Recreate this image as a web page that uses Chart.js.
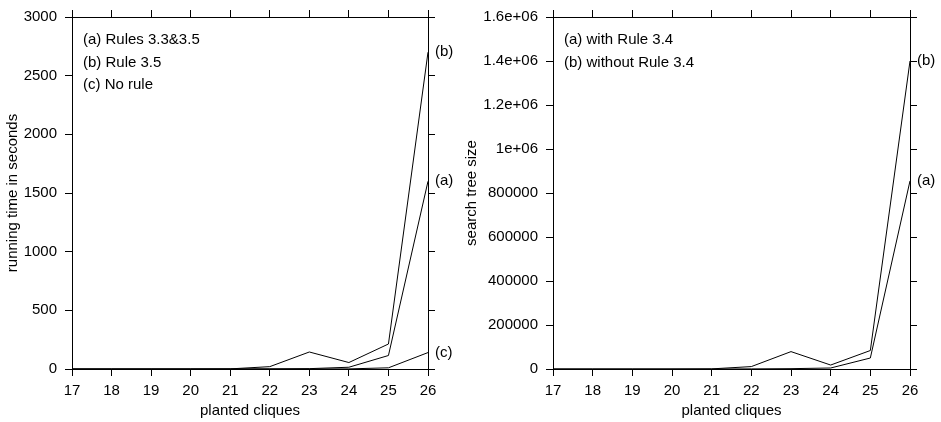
<!DOCTYPE html>
<html>
<head>
<meta charset="utf-8">
<script src="https://cdn.jsdelivr.net/npm/chart.js@4.4.1/dist/chart.umd.min.js"></script>
<style>
  body { margin: 0; background: #fff; }
  #wrapTime { position: absolute; left: 0; top: 0; width: 460px; height: 422px; }
  #wrapTree { position: absolute; left: 460px; top: 0; width: 481px; height: 422px; }
</style>
</head>
<body>
<div id="wrapTime"><canvas id="chartTime"></canvas></div>
<div id="wrapTree"><canvas id="chartTree"></canvas></div>
<script>
// planted cliques on the x axis
var cliques = [17, 18, 19, 20, 21, 22, 23, 24, 25, 26];

// left: running time in seconds
var timeRules = [0, 0, 0, 0, 0, 1, 3, 15, 115, 1600];     // (a) Rules 3.3&3.5
var timeRule35 = [0, 0, 0, 0, 1, 20, 145, 55, 213, 2700]; // (b) Rule 3.5
var timeNoRule = [0, 0, 0, 0, 0, 0, 0, 1, 10, 140];       // (c) No rule
var timeLegend = ["(a) Rules 3.3&3.5", "(b) Rule 3.5", "(c) No rule"];
var timeEnds = ["(a)", "(b)", "(c)"];

// right: search tree size
var treeWith = [0, 0, 0, 0, 0, 500, 1500, 4500, 50000, 855000];          // (a)
var treeWithout = [0, 0, 0, 0, 500, 11000, 79000, 18000, 84000, 1400000]; // (b)
var treeLegend = ["(a) with Rule 3.4", "(b) without Rule 3.4"];
var treeEnds = ["(a)", "(b)"];
var treeTicks = ["0", "200000", "400000", "600000", "800000", "1e+06", "1.2e+06", "1.4e+06", "1.6e+06"];

var FONT = { family: "'Liberation Sans', Arial, sans-serif", size: 15 };
Chart.defaults.font = FONT;
Chart.defaults.color = "#000";

// legend text in the corner and (a)/(b)/(c) at the line ends
var notesPlugin = {
  id: "notes",
  afterDraw: function (chart, args, opts) {
    var ctx = chart.ctx, area = chart.chartArea;
    ctx.save();
    ctx.font = FONT.size + "px " + FONT.family;
    ctx.fillStyle = "#000";
    ctx.textAlign = "left";
    ctx.textBaseline = "middle";
    opts.legend.forEach(function (txt, i) {
      ctx.fillText(txt, area.left + 11, area.top + 23 + i * 22.5);
    });
    chart.data.datasets.forEach(function (ds, i) {
      var last = ds.data[ds.data.length - 1];
      var y = chart.scales.y.getPixelForValue(last.y);
      ctx.fillText(opts.ends[i], area.right + 7, y);
    });
    ctx.restore();
  }
};

function points(ys) {
  return cliques.map(function (c, i) { return { x: c, y: ys[i] }; });
}

function lineSet(ys) {
  return {
    data: points(ys),
    borderColor: "#000",
    borderWidth: 1,
    pointRadius: 0,
    tension: 0,
    fill: false
  };
}

function axisGrid() {
  return { drawOnChartArea: false, drawTicks: true, tickLength: 7, color: "#000", tickColor: "#000" };
}

function makeChart(id, sets, yMax, yStep, yTitle, yWidth, titlePad, rightPad, tickCb, legend, ends) {
  return new Chart(document.getElementById(id), {
    type: "line",
    data: { datasets: sets },
    plugins: [notesPlugin],
    options: {
      responsive: true,
      maintainAspectRatio: false,
      animation: false,
      layout: { padding: { top: 6, right: rightPad, bottom: 0, left: 0 } },
      plugins: {
        legend: { display: false },
        tooltip: { enabled: false },
        notes: { legend: legend, ends: ends }
      },
      scales: {
        x: {
          type: "linear", position: "bottom", min: 17, max: 26,
          ticks: { stepSize: 1, padding: 6, maxRotation: 0 },
          grid: axisGrid(),
          border: { display: true, color: "#000", width: 1 },
          title: { display: true, text: "planted cliques", padding: { top: 0, bottom: 2 } },
          afterFit: function (s) { s.height = 53; }
        },
        x2: {
          type: "linear", position: "top", min: 17, max: 26,
          ticks: { display: false, stepSize: 1 },
          grid: axisGrid(),
          border: { display: true, color: "#000", width: 1 },
          afterFit: function (s) { s.height = 7; }
        },
        y: {
          type: "linear", position: "left", min: 0, max: yMax,
          ticks: { stepSize: yStep, padding: 8, callback: tickCb },
          grid: axisGrid(),
          border: { display: true, color: "#000", width: 1 },
          title: { display: true, text: yTitle, padding: { top: titlePad, bottom: 0 } },
          afterFit: function (s) { s.width = yWidth; }
        },
        y2: {
          type: "linear", position: "right", min: 0, max: yMax,
          ticks: { display: false, stepSize: yStep },
          grid: axisGrid(),
          border: { display: true, color: "#000", width: 1 },
          afterFit: function (s) { s.width = 7; }
        }
      }
    }
  });
}

makeChart("chartTime",
  [lineSet(timeRules), lineSet(timeRule35), lineSet(timeNoRule)],
  3000, 500, "running time in seconds", 72, 4, 25,
  function (v) { return v; }, timeLegend, timeEnds);

makeChart("chartTree",
  [lineSet(treeWith), lineSet(treeWithout)],
  1600000, 200000, "search tree size", 93, 3, 24,
  function (v, i) { return treeTicks[i]; }, treeLegend, treeEnds);
</script>
</body>
</html>
